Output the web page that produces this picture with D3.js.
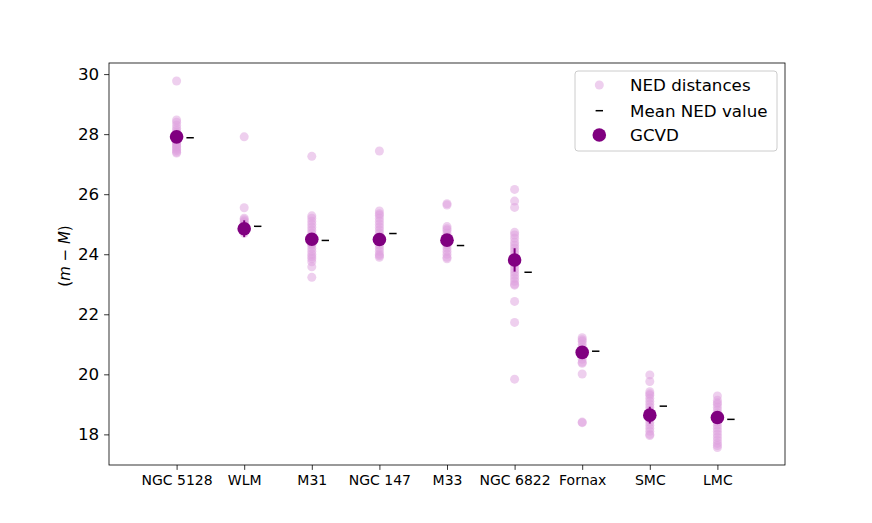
<!DOCTYPE html>
<head>
  <meta charset="utf-8">
  <script src="https://d3js.org/d3.v7.min.js"></script>
  <style>
    body { margin: 0; background: #fff; }
    text { font-family: "DejaVu Sans", sans-serif; fill: #000; }
  </style>
</head>
<body>
<script>

// galaxies along the x axis
var galaxies = ["NGC 5128", "WLM", "M31", "NGC 147", "M33", "NGC 6822", "Fornax", "SMC", "LMC"];

// NED distance moduli per galaxy
var nedNGC5128 = [29.77, 28.47, 28.40, 28.30, 28.20, 28.12, 28.05, 28.00, 27.95, 27.90, 27.85, 27.80, 27.75, 27.70, 27.65, 27.60, 27.55, 27.50, 27.45, 27.40, 27.37];
var nedWLM     = [27.91, 25.55, 25.20, 25.15, 25.10, 25.05, 25.00, 24.95, 24.90, 24.85, 24.80, 24.75, 24.70];
var nedM31     = [27.26, 25.28, 25.20, 25.10, 25.00, 24.90, 24.80, 24.70, 24.60, 24.50, 24.45, 24.40, 24.35, 24.30, 24.20, 24.10, 24.00, 23.92, 23.85, 23.75, 23.58, 23.23];
var nedNGC147  = [27.44, 25.44, 25.35, 25.30, 25.20, 25.10, 25.00, 24.90, 24.80, 24.70, 24.60, 24.50, 24.40, 24.30, 24.20, 24.10, 24.00, 23.95, 23.90];
var nedM33     = [25.68, 25.64, 24.92, 24.85, 24.80, 24.70, 24.60, 24.50, 24.40, 24.30, 24.20, 24.10, 24.00, 23.90, 23.85];
var nedNGC6822 = [26.16, 25.77, 25.56, 24.73, 24.64, 24.53, 24.40, 24.30, 24.20, 24.10, 24.00, 23.90, 23.80, 23.70, 23.60, 23.50, 23.40, 23.30, 23.20, 23.10, 23.00, 22.97, 22.43, 21.73, 19.84];
var nedFornax  = [21.22, 21.15, 21.10, 21.00, 20.90, 20.80, 20.70, 20.60, 20.50, 20.40, 20.37, 20.01, 18.41, 18.39];
var nedSMC     = [19.98, 19.76, 19.42, 19.35, 19.30, 19.20, 19.10, 19.00, 18.90, 18.80, 18.70, 18.60, 18.50, 18.40, 18.30, 18.20, 18.10, 18.00, 17.96];
var nedLMC     = [19.28, 19.14, 19.05, 19.00, 18.90, 18.80, 18.70, 18.60, 18.50, 18.40, 18.30, 18.20, 18.10, 18.00, 17.90, 17.80, 17.70, 17.63, 17.56];
var nedAll = [nedNGC5128, nedWLM, nedM31, nedNGC147, nedM33, nedNGC6822, nedFornax, nedSMC, nedLMC];

// mean NED value per galaxy
var nedMean = [27.88, 24.93, 24.46, 24.69, 24.29, 23.40, 20.77, 18.94, 18.50];

// GCVD value and its error
var gcvd    = [27.91, 24.85, 24.50, 24.49, 24.47, 23.81, 20.73, 18.64, 18.56];
var gcvdErr = [0.10, 0.28, 0.10, 0.10, 0.15, 0.39, 0.15, 0.28, 0.10];

var yTicks = [18, 20, 22, 24, 26, 28, 30];

var margin = {top: 63, right: 87, bottom: 58, left: 109},
    width = 872 - margin.left - margin.right,
    height = 523 - margin.top - margin.bottom;

var svg = d3.select("body").append("svg")
    .attr("width", 872)
    .attr("height", 523);

var g = svg.append("g")
    .attr("transform", "translate(" + margin.left + "," + margin.top + ")");

var x = d3.scaleLinear().domain([-1, 9]).range([0, width]);
var y = d3.scaleLinear().domain([16.98, 30.37]).range([height, 0]);

// NED points
var pts = [];
nedAll.forEach(function(arr, i) {
  arr.forEach(function(v) { pts.push({i: i, v: v}); });
});

g.selectAll(".ned")
  .data(pts)
  .enter().append("circle")
    .attr("class", "ned")
    .attr("cx", function(d) { return x(d.i); })
    .attr("cy", function(d) { return y(d.v); })
    .attr("r", 4.5)
    .attr("fill", "plum")
    .attr("fill-opacity", 0.5);

// mean NED markers, shifted right
g.selectAll(".mean")
  .data(nedMean)
  .enter().append("line")
    .attr("class", "mean")
    .attr("x1", function(d, i) { return x(i + 0.2) - 3.7; })
    .attr("x2", function(d, i) { return x(i + 0.2) + 3.7; })
    .attr("y1", function(d) { return y(d); })
    .attr("y2", function(d) { return y(d); })
    .attr("stroke", "#000")
    .attr("stroke-width", 1.5);

// GCVD error bars
g.selectAll(".err")
  .data(gcvd)
  .enter().append("line")
    .attr("class", "err")
    .attr("x1", function(d, i) { return x(i); })
    .attr("x2", function(d, i) { return x(i); })
    .attr("y1", function(d, i) { return y(d - gcvdErr[i]); })
    .attr("y2", function(d, i) { return y(d + gcvdErr[i]); })
    .attr("stroke", "purple")
    .attr("stroke-width", 2);

g.selectAll(".gcvd")
  .data(gcvd)
  .enter().append("circle")
    .attr("class", "gcvd")
    .attr("cx", function(d, i) { return x(i); })
    .attr("cy", function(d) { return y(d); })
    .attr("r", 6.8)
    .attr("fill", "purple");

// axes
var xAxis = g.append("g")
    .attr("transform", "translate(0," + height + ")")
    .call(d3.axisBottom(x).tickValues(d3.range(galaxies.length))
      .tickFormat(function(d) { return galaxies[d]; })
      .tickSize(4.9).tickPadding(5));
xAxis.selectAll("text").style("font-size", "14px");

var yAxis = g.append("g")
    .call(d3.axisLeft(y).tickValues(yTicks).tickSize(4.9).tickPadding(5));
yAxis.selectAll("text").style("font-size", "16.7px");

g.selectAll(".domain").remove();
g.selectAll(".tick line").attr("stroke", "#000").attr("stroke-width", 0.8);

g.append("rect")
    .attr("width", width)
    .attr("height", height)
    .attr("fill", "none")
    .attr("stroke", "#000")
    .attr("stroke-width", 0.8);

// y label
svg.append("text")
    .attr("transform", "translate(70,256)rotate(-90)")
    .attr("text-anchor", "middle")
    .style("font-size", "15px")
    .html('(<tspan font-style="italic">m</tspan> \u2212 <tspan font-style="italic">M</tspan>)');

// legend
var leg = svg.append("g").attr("transform", "translate(575,71)");
leg.append("rect")
    .attr("width", 202)
    .attr("height", 80)
    .attr("rx", 3)
    .attr("fill", "#fff")
    .attr("fill-opacity", 0.8)
    .attr("stroke", "#ccc");

var legItems = ["NED distances", "Mean NED value", "GCVD"];
var row = [14, 39.7, 64];

leg.append("circle").attr("cx", 24.3).attr("cy", row[0]).attr("r", 4.5)
    .attr("fill", "plum").attr("fill-opacity", 0.5);
leg.append("line").attr("x1", 20.6).attr("x2", 28).attr("y1", row[1]).attr("y2", row[1])
    .attr("stroke", "#000").attr("stroke-width", 1.5);
leg.append("circle").attr("cx", 24.3).attr("cy", row[2]).attr("r", 6.8)
    .attr("fill", "purple");

leg.selectAll(".lt")
  .data(legItems)
  .enter().append("text")
    .attr("x", 55)
    .attr("y", function(d, i) { return row[i]; })
    .attr("dy", "0.35em")
    .style("font-size", "16.7px")
    .text(function(d) { return d; });

</script>
</body>
